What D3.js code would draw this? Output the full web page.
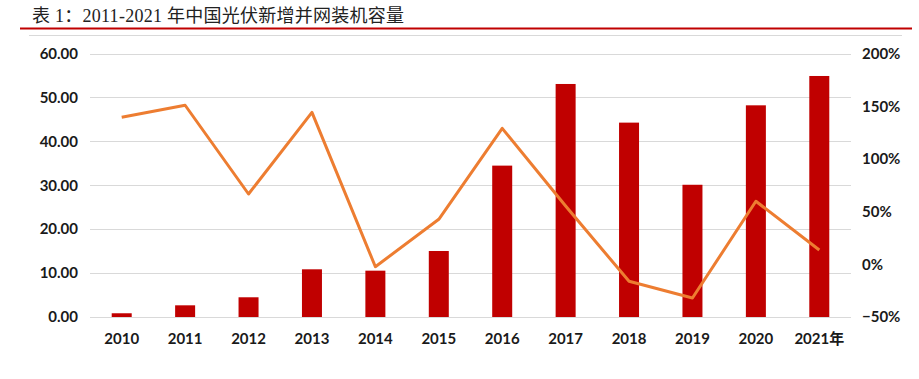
<!DOCTYPE html>
<html><head><meta charset="utf-8">
<script src="https://cdn.jsdelivr.net/npm/d3@7"></script>
<style>body{margin:0;background:#fff}svg{display:block}</style>
</head><body>
<svg id="c" width="919" height="379"></svg>
<script>
const titleText = "表 1：2011-2021 年中国光伏新增并网装机容量";
const categories = ["2010","2011","2012","2013","2014","2015","2016","2017","2018","2019","2020","2021年"];
const capacity = [0.85, 2.66, 4.49, 10.86, 10.55, 15.03, 34.47, 53.06, 44.26, 30.11, 48.2, 54.88];
const growth = [1.395, 1.509, 0.667, 1.442, -0.023, 0.427, 1.29, 0.553, -0.161, -0.32, 0.598, 0.136];
const leftTicks = [0, 10, 20, 30, 40, 50, 60];
const rightTicks = [-0.5, 0, 0.5, 1.0, 1.5, 2.0];

const svg = d3.select("#c");
const L = 90, R = 851, T = 53.5, B = 317;

svg.append("text").attr("x", 32).attr("y", 22)
  .attr("font-family", "'Liberation Serif','Noto Sans CJK SC',serif")
  .attr("font-size", 18).attr("fill", "#222")
  .attr("textLength", 372).attr("lengthAdjust", "spacing")
  .text(titleText);
svg.append("line").attr("x1", 20).attr("x2", 912).attr("y1", 28.5).attr("y2", 28.5)
  .attr("stroke", "#c00000").attr("stroke-width", 1.8);
svg.append("line").attr("x1", 29).attr("x2", 902).attr("y1", 35.5).attr("y2", 35.5)
  .attr("stroke", "#d9d9d9").attr("stroke-width", 1);

const x = d3.scaleBand().domain(categories).range([L, R]).paddingInner(0).paddingOuter(0);
const yL = d3.scaleLinear().domain([0, 60]).range([B, T]);
const yR = d3.scaleLinear().domain([-0.5, 2.0]).range([B, T]);

const font = "Lato, 'Noto Sans CJK SC', sans-serif";

// grid
svg.append("g").selectAll("line").data(leftTicks).join("line")
  .attr("x1", L).attr("x2", R)
  .attr("y1", d => Math.round(yL(d)) + 0.5).attr("y2", d => Math.round(yL(d)) + 0.5)
  .attr("stroke", "#d9d9d9").attr("stroke-width", 1);

// left axis
const gl = svg.append("g").attr("transform", `translate(${L - 12},0)`)
  .call(d3.axisLeft(yL).tickValues(leftTicks).tickFormat(d3.format(".2f")).tickSize(0).tickPadding(0));
gl.select(".domain").remove();
gl.selectAll("text").attr("font-family", font).attr("font-weight", "bold").attr("font-size", 15).attr("fill", "#1a1a1a");

// right axis
const gr = svg.append("g").attr("transform", `translate(${R + 11},0)`)
  .call(d3.axisRight(yR).tickValues(rightTicks).tickFormat(d3.format(".0%")).tickSize(0).tickPadding(0));
gr.select(".domain").remove();
gr.selectAll("text").attr("font-family", font).attr("font-weight", "bold").attr("font-size", 15).attr("fill", "#1a1a1a");

// bottom axis
const gb = svg.append("g").attr("transform", `translate(0,${B})`)
  .call(d3.axisBottom(x).tickSize(0).tickPadding(16));
gb.select(".domain").remove();
gb.selectAll("text").attr("font-family", font).attr("font-weight", "bold").attr("font-size", 15).attr("fill", "#1a1a1a");

// bars
const bw = 20;
svg.append("g").selectAll("rect").data(capacity).join("rect")
  .attr("x", (d, i) => x(categories[i]) + x.bandwidth() / 2 - bw / 2)
  .attr("width", bw)
  .attr("y", d => yL(d)).attr("height", d => yL(0) - yL(d))
  .attr("fill", "#c00000");

// line
const line = d3.line().x((d, i) => x(categories[i]) + x.bandwidth() / 2).y(d => yR(d));
svg.append("path").datum(growth).attr("d", line)
  .attr("fill", "none").attr("stroke", "#ed7d31").attr("stroke-width", 3).attr("stroke-linejoin", "round");
</script>
</body></html>
